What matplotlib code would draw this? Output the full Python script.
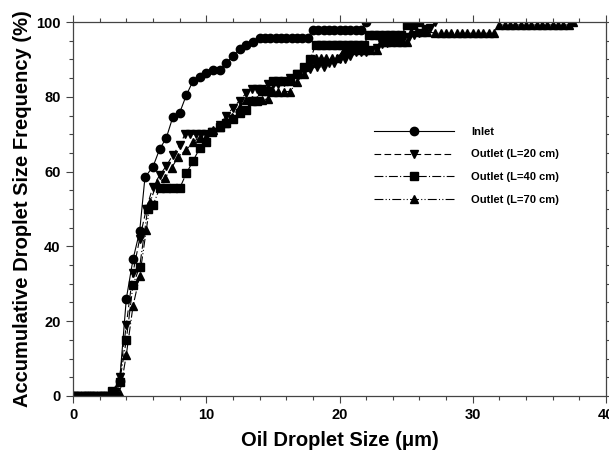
import numpy as np
import matplotlib.pyplot as plt

#Font setup
plt.rcParams['font.family'] = 'Liberation Sans'
plt.rcParams['font.weight'] = 'bold'
plt.rcParams['axes.labelweight'] = 'bold'

#---------/Data/------------------------------#

#Inlet (circles)
inlet_x = [0, 0.4, 0.8, 1.2, 1.6, 2.0, 2.4, 2.8, 3.2, 3.5, 4.0, 4.5, 5.0, 5.4,
           6.0, 6.5, 7.0, 7.5, 8.0, 8.5, 9.0, 9.5, 10.0, 10.5, 11.0, 11.5, 12.0,
           12.5, 13.0, 13.5, 14.0, 14.4, 14.8, 15.2, 15.6, 16.0, 16.4, 16.8,
           17.2, 17.6, 18.0, 18.4, 18.8, 19.2, 19.6, 20.0, 20.4, 20.8, 21.2,
           21.6, 22.0]
inlet_y = [0, 0, 0, 0, 0, 0, 0, 0, 0, 4, 26, 36.5, 44, 58.5,
           61.3, 66, 69, 74.7, 75.7, 80.4, 84.2, 85.2, 86.3, 87.2, 87.2, 89, 91,
           92.8, 93.9, 94.7, 95.7, 95.8, 95.8, 95.8, 95.8, 95.8, 95.8, 95.8,
           95.8, 95.8, 97.9, 97.9, 97.9, 97.9, 97.9, 97.9, 97.9, 97.9, 97.9,
           97.9, 100]

#Outlet L=20 cm (down triangles)
l20_x = [0, 0.4, 0.8, 1.2, 1.6, 2.0, 2.4, 2.8, 3.2, 3.5, 4.0, 4.5, 5.0, 5.5,
         6.0, 6.5, 7.0, 7.5, 8.0, 8.4, 8.8, 9.2, 9.6, 10.0, 10.4, 11.0, 11.5,
         12.0, 12.5, 13.0, 13.4, 13.8, 14.2, 14.6, 15.0, 15.4, 15.8, 16.3,
         16.8, 17.3, 17.8, 18.3, 18.8, 19.2, 19.6, 20.0, 20.4, 20.8, 21.2,
         21.6, 22.0, 22.4, 22.8, 23.2, 23.6, 24.0, 24.4, 24.8, 25.2, 25.6,
         26.0, 26.4, 26.8, 27.2]
l20_y = [0, 0, 0, 0, 0, 0, 0, 0, 1, 5, 19, 33, 42, 50,
         56, 59, 61.5, 64.5, 67, 70, 70, 70, 70, 70, 70.5, 72.5, 75,
         77, 79, 81, 82, 82, 82, 83.5, 83.5, 83.5, 84, 85,
         86, 87, 87.5, 88, 88, 89, 89, 90, 90, 91, 92,
         92, 92, 92.5, 93, 94, 94.5, 95, 95, 95.5, 96, 96.5,
         97, 98, 98.5, 100]

#Outlet L=40 cm (squares)
l40_x = [0, 0.4, 0.8, 1.2, 1.6, 2.0, 2.4, 2.9, 3.5, 4.0, 4.5, 5.0, 5.6, 6.0,
         6.5, 7.0, 7.5, 8.0, 8.5, 9.0, 9.5, 10.0, 10.4, 11.0, 11.5, 12.0,
         12.5, 13.0, 13.4, 13.8, 14.2, 14.6, 15.0, 15.4, 15.8, 16.3, 16.8,
         17.3, 17.8, 18.2, 18.6, 19.0, 19.4, 19.8, 20.2, 20.6, 21.0, 21.4,
         21.8, 22.2, 22.6, 23.0, 23.4, 23.8, 24.2, 24.6, 25.1, 25.5, 26.0]
l40_y = [0, 0, 0, 0, 0, 0, 0, 1.4, 3.8, 15, 29.7, 34.5, 49.9, 51,
         55.5, 55.5, 55.5, 55.5, 59.5, 62.8, 66.2, 68, 70.7, 72, 73, 74.2,
         75.6, 76.5, 79, 79, 81.6, 81.6, 84.1, 84.1, 84.1, 84.1, 86,
         88, 90, 93.8, 93.8, 93.8, 93.8, 93.8, 93.8, 93.8, 93.8, 93.8,
         93.8, 96.5, 96.5, 96.5, 96.5, 96.5, 96.5, 96.5, 99.2, 99.2, 100]

#Outlet L=70 cm (up triangles)
l70_x = [0, 0.4, 0.8, 1.2, 1.6, 2.0, 2.4, 2.8, 3.2, 3.5, 4.0, 4.5, 5.0, 5.5,
         5.8, 6.3, 6.9, 7.4, 7.9, 8.5, 9.0, 9.5, 10.0, 10.5, 11.0, 11.4, 11.9,
         12.5, 13.0, 13.4, 13.8, 14.2, 14.6, 15.0, 15.4, 15.8, 16.3, 16.8,
         17.3, 17.8, 18.2, 18.6, 19.0, 19.4, 19.8, 20.3, 20.7, 21.1, 21.5,
         21.9, 22.3, 22.8, 23.1, 23.5, 23.9, 24.3, 24.7, 25.1, 25.4, 25.8,
         26.2, 26.6, 27.2, 27.6, 28.0, 28.4, 28.8, 29.2, 29.6, 30.0, 30.4,
         30.8, 31.2, 31.6, 32.0, 32.4, 32.8, 33.2, 33.6, 34.0, 34.4, 34.8,
         35.2, 35.6, 36.0, 36.4, 36.8, 37.2, 37.5]
l70_y = [0, 0, 0, 0, 0, 0, 0, 0, 0, 0.5, 11, 24, 32, 44.4,
         52, 57, 58.2, 61, 64, 65.8, 68, 69, 69.3, 71, 72, 72.9, 74.7,
         77.4, 79.1, 79.1, 79.1, 79.1, 79.5, 81.4, 81.4, 81.4, 81.4, 84,
         86, 89, 90.3, 90.3, 90.3, 90.3, 90.3, 92.5, 92.5, 92.5, 92.5,
         92.5, 92.5, 92.5, 94.7, 94.7, 94.7, 94.7, 94.7, 94.7, 97.4, 97.4,
         97.4, 97.4, 97, 97, 97, 97, 97, 97, 97, 97, 97,
         97, 97, 97, 99.2, 99.2, 99.2, 99.2, 99.2, 99.2, 99.2, 99.2,
         99.2, 99.2, 99.2, 99.2, 99.2, 99.2, 100]

#---------/Plot/------------------------------#

fig = plt.figure(figsize=(6.09, 4.54), dpi=100)
ax = fig.add_axes([0.1199, 0.1278, 0.8752, 0.8237])

lw = 0.8
ax.plot(inlet_x, inlet_y, "k-", marker="o", ms=6, lw=lw, label="Inlet")
ax.plot(l20_x, l20_y, "k", ls=(0, (6, 3)), marker="v", ms=6, lw=lw,
        label="Outlet (L=20 cm)")
ax.plot(l40_x, l40_y, "k", ls=(0, (8, 2, 1, 2)), marker="s", ms=5.3, lw=lw,
        label="Outlet (L=40 cm)")
ax.plot(l70_x, l70_y, "k", ls=(0, (8, 2, 1, 2, 1, 2)), marker="^", ms=6,
        lw=lw, label="Outlet (L=70 cm)")

#Axes limits and ticks
ax.set_xlim(0, 40)
ax.set_ylim(0, 100)
ax.set_xticks(np.arange(0, 41, 10))
ax.set_xticks(np.arange(0, 41, 2), minor=True)
ax.set_yticks(np.arange(0, 101, 20))
ax.set_yticks(np.arange(0, 101, 5), minor=True)
ax.tick_params(which="both", direction="out", top=True, right=True,
               labelsize=10.5, width=0.8, color="#444444")
ax.tick_params(which="major", length=5, pad=4)
ax.tick_params(which="minor", length=3)
for s in ax.spines.values():
    s.set_linewidth(0.9)
    s.set_color("#444444")

ax.set_xlabel("Oil Droplet Size (\u03bcm)", fontsize=14.5, fontweight="bold",
              labelpad=6)
ax.set_ylabel("Accumulative Droplet Size Frequency (%)", fontsize=14.5,
              fontweight="bold", labelpad=3)

#Legend
leg = ax.legend(loc="upper left", bbox_to_anchor=(0.555, 0.735), frameon=False,
                fontsize=8, handlelength=7.2, handletextpad=1.5,
                labelspacing=1.15, borderpad=0)

plt.savefig("out.png", dpi=100)
